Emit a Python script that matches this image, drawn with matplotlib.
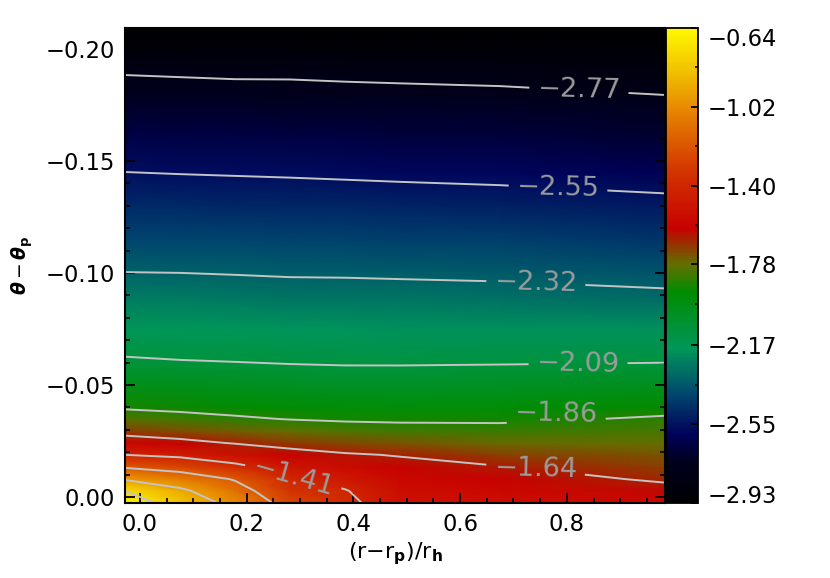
import numpy as np
import matplotlib
matplotlib.use("Agg")
import matplotlib.pyplot as plt
from matplotlib.colors import LinearSegmentedColormap

# grid of the field
r_vals = [-0.0281, 0.075, 0.178, 0.281, 0.384, 0.487, 0.675, 0.984]
theta_vals = [0.0027, -0.0027, -0.0080, -0.0134, -0.0188, -0.0241, -0.0295, -0.0348,
              -0.0402, -0.0500, -0.0612, -0.0746, -0.0879, -0.1004, -0.1147, -0.1304,
              -0.1451, -0.1616, -0.1795, -0.1884, -0.1996, -0.2094]

col0 = [-0.62, -0.73, -0.969, -1.198, -1.41, -1.563, -1.69, -1.792, -1.877, -1.973, -2.081,
        -2.165, -2.245, -2.32, -2.394, -2.474, -2.55, -2.634, -2.725, -2.77, -2.86, -2.93]
col1 = [-0.82, -0.912, -1.065, -1.262, -1.448, -1.602, -1.716, -1.818, -1.89, -1.984, -2.09,
        -2.17, -2.249, -2.322, -2.397, -2.478, -2.555, -2.638, -2.728, -2.775, -2.86, -2.93]
col2 = [-1.01, -1.099, -1.194, -1.367, -1.514, -1.648, -1.746, -1.844, -1.902, -1.996, -2.098,
        -2.177, -2.255, -2.327, -2.401, -2.483, -2.559, -2.642, -2.732, -2.78, -2.86, -2.93]
col3 = [-1.26, -1.326, -1.393, -1.487, -1.589, -1.686, -1.775, -1.864, -1.915, -2.009, -2.106,
        -2.184, -2.261, -2.333, -2.406, -2.487, -2.563, -2.646, -2.735, -2.78, -2.865, -2.93]
col4 = [-1.37, -1.40, -1.47, -1.55, -1.627, -1.713, -1.80, -1.876, -1.924, -2.019, -2.11,
        -2.187, -2.264, -2.334, -2.409, -2.491, -2.568, -2.65, -2.74, -2.785, -2.87, -2.93]
col5 = [-1.50, -1.53, -1.56, -1.60, -1.647, -1.73, -1.812, -1.881, -1.93, -2.02, -2.11,
        -2.188, -2.266, -2.338, -2.413, -2.496, -2.573, -2.654, -2.742, -2.79, -2.875, -2.93]
col6 = [-1.52, -1.56, -1.60, -1.635, -1.694, -1.76, -1.822, -1.88, -1.927, -2.015, -2.107,
        -2.19, -2.27, -2.345, -2.42, -2.505, -2.58, -2.66, -2.75, -2.795, -2.87, -2.93]
col7 = [-1.56, -1.61, -1.653, -1.69, -1.73, -1.77, -1.808, -1.847, -1.895, -1.995, -2.102,
        -2.196, -2.289, -2.363, -2.44, -2.523, -2.60, -2.68, -2.77, -2.82, -2.88, -2.93]

levels = [-2.77, -2.55, -2.32, -2.09, -1.86, -1.64, -1.41, -1.18, -0.95, -0.73]
cbar_ticks = [-2.93, -2.55, -2.17, -1.78, -1.40, -1.02, -0.64]
x_ticks = [0.0, 0.2, 0.4, 0.6, 0.8]
y_ticks = [0.0, -0.05, -0.10, -0.15, -0.20]

label_pos = [(0.823, -0.1830), (0.784, -0.1405), (0.742, -0.0960), (0.821, -0.0605),
             (0.780, -0.0350), (0.742, -0.0135), (0.289, -0.0115)]

cmap = LinearSegmentedColormap.from_list("idl", [
    (0.0, (0, 0, 0)), (0.09, (0, 0, 30 / 255)), (0.147, (0, 0, 90 / 255)),
    (0.232, (0, 70 / 255, 110 / 255)), (0.328, (0, 150 / 255, 90 / 255)),
    (0.448, (0, 140 / 255, 0)), (0.507, (100 / 255, 110 / 255, 0)),
    (0.543, (140 / 255, 60 / 255, 0)), (0.581, (200 / 255, 0, 0)),
    (0.70, (210 / 255, 50 / 255, 0)), (0.827, (230 / 255, 130 / 255, 0)),
    (0.91, (240 / 255, 190 / 255, 0)), (1.0, (1, 245 / 255, 0))])

plt.rcParams["mathtext.fontset"] = "dejavusans"
vmin, vmax = -2.93, -0.64
z = np.array([col0, col1, col2, col3, col4, col5, col6, col7]).T

fig = plt.figure(figsize=(8.3, 5.78), dpi=100)
ax = fig.add_axes([125 / 830, 75 / 578, 540 / 830, 475 / 578])
cax = fig.add_axes([666 / 830, 75 / 578, 32 / 830, 475 / 578])

mesh = ax.pcolormesh(r_vals, theta_vals, z, cmap=cmap, vmin=vmin, vmax=vmax, shading="gouraud")
cs = ax.contour(r_vals, theta_vals, z, levels=levels, colors="#c4c4c4", linewidths=1.4,
                linestyles="solid")
labels = ax.clabel(cs, levels=levels[:7], fmt=lambda v: "\u2212%.2f" % abs(v), fontsize=19.5,
                   colors="#9c9c9c", inline=True, inline_spacing=8, manual=label_pos)
for t in labels:
    if "1.41" in t.get_text():
        t.set_rotation(-16)
    else:
        t.set_rotation(-1.5)
    if "1.86" in t.get_text():
        px, py = t.get_position()
        t.set_position((px, py - 0.003))

ax.set_xlim(r_vals[0], r_vals[-1])
ax.set_ylim(theta_vals[0], theta_vals[-1])
ax.set_xticks(x_ticks)
ax.set_xticklabels(["0.0", "0.2", "0.4", "0.6", "0.8"])
ax.set_yticks(y_ticks)
ax.set_yticklabels(["0.00", "\u22120.05", "\u22120.10", "\u22120.15", "\u22120.20"])
ax.set_xticks(np.arange(0, 1, 0.05), minor=True)
ax.set_yticks(np.arange(-0.20, 0.001, 0.01), minor=True)
ax.tick_params(which="major", direction="in", length=7, width=1.3, top=True, right=True,
               labelsize=16.3, color="black")
ax.tick_params(axis="y", which="major", pad=7)
ax.tick_params(axis="x", which="major", pad=7)
ax.tick_params(which="minor", direction="in", length=3.5, width=1.2, top=True, right=True)
for s in ax.spines.values():
    s.set_linewidth(1.5)

ax.set_xlabel(r"(r$-$r$_{\mathbf{p}}$)/r$_{\mathbf{h}}$", fontsize=16, labelpad=3)
ax.set_ylabel(r"$\mathbfit{\theta}-\mathbfit{\theta}_{\mathbf{p}}$", fontsize=13.5, labelpad=8)

cb = fig.colorbar(mesh, cax=cax)
cb.solids.set_edgecolor("face")
cb.set_ticks(cbar_ticks)
cb.set_ticklabels(["\u2212%.2f" % abs(t) for t in cbar_ticks])
cb.minorticks_off()
cax.set_yticks([-0.83, -1.21, -1.59, -1.97, -2.36, -2.74], minor=True)
cax.tick_params(which="major", direction="in", length=5, width=1.3, labelsize=16.3, pad=7,
                right=True, left=False)
cax.tick_params(which="minor", direction="in", length=2.5, width=1.2, right=True, left=False)
cb.outline.set_linewidth(1.3)
tl = cax.get_yticklabels()
tl[0].set_va("baseline")
tl[-1].set_va("top")

fig.savefig("out.png", dpi=100)
